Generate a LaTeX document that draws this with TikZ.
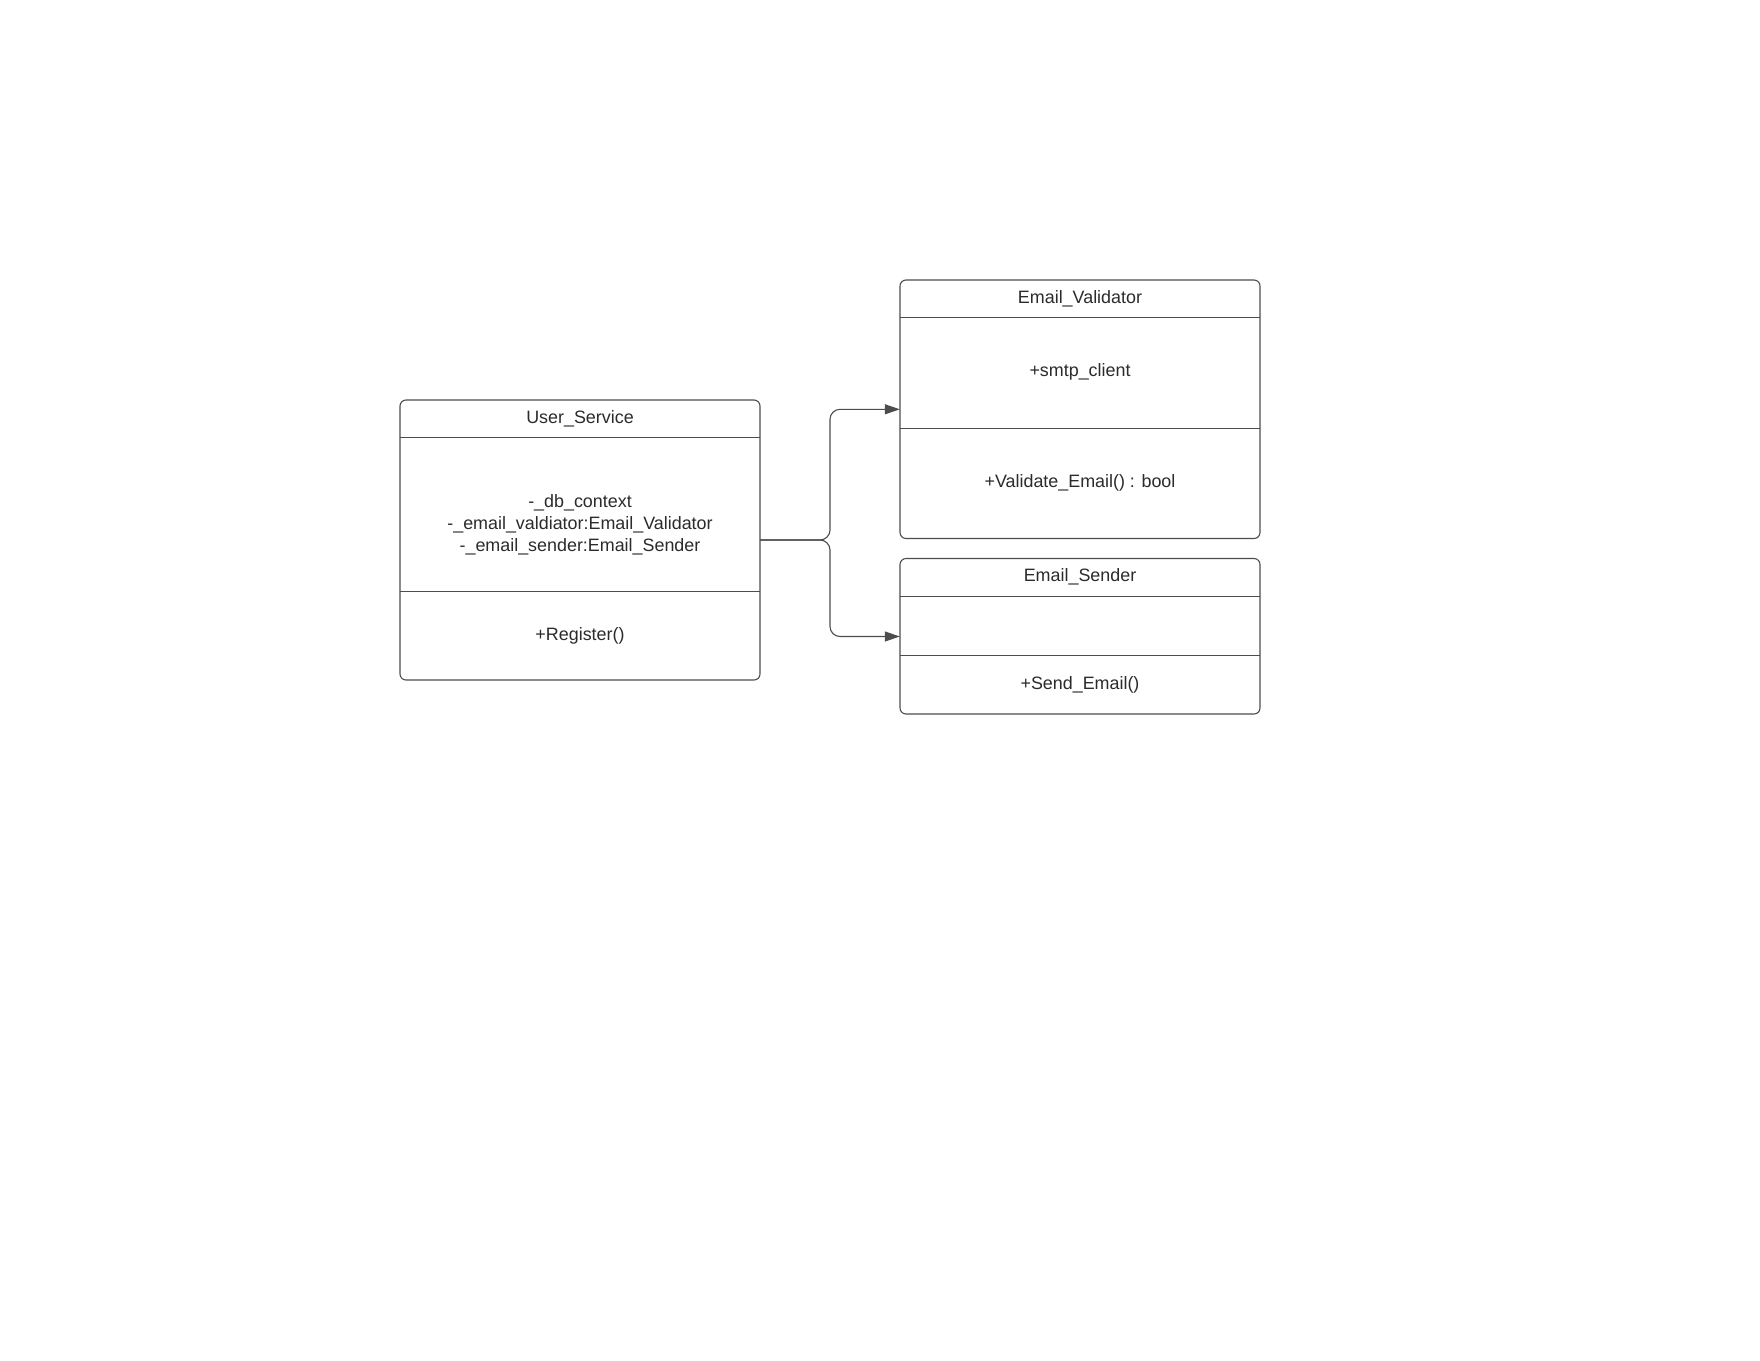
\documentclass[tikz,border=0pt]{standalone}
\usepackage{fontspec}
\setmainfont{Liberation Sans}
\usetikzlibrary{arrows.meta}
\definecolor{ink}{HTML}{2B2B2B}
\definecolor{edge}{HTML}{4D4D4D}
\begin{document}
\begin{tikzpicture}[x=1pt,y=-1pt,
  classbox/.style={draw=edge, line width=1.1pt, rounded corners=6pt, inner sep=0pt},
  sepline/.style={draw=edge, line width=1.1pt},
  txt/.style={text=ink, font=\fontsize{17.9}{22}\selectfont, align=center, inner sep=0pt},
  conn/.style={draw=edge, line width=1.1pt, rounded corners=10pt,
    -{Triangle[length=15pt,width=10pt]}}]
  \useasboundingbox[fill=white] (0,0) rectangle (1760,1360);

  % User_Service
  \path[classbox] (400,400) rectangle (760,680);
  \node[minimum width=360pt, minimum height=280pt, inner sep=0pt] (us) at (580,540) {};
  \draw[sepline] (400,437.3) -- (760,437.3);
  \draw[sepline] (400,591.3) -- (760,591.3);
  \node[txt] (usT) at (580,418.7) {User\_Service};
  \node[txt] (usA) at (580,525) {-\_db\_context\\-\_email\_valdiator:Email\_Validator\\-\_email\_sender:Email\_Sender};
  \node[txt] (usM) at (580,635.5) {+Register()};

  % Email_Validator
  \path[classbox] (900,280) rectangle (1260,538.5);
  \node[minimum width=360pt, minimum height=258.5pt, inner sep=0pt] (ev) at (1080,409.3) {};
  \draw[sepline] (900,317.3) -- (1260,317.3);
  \draw[sepline] (900,428.3) -- (1260,428.3);
  \node[txt] (evT) at (1080,298.3) {Email\_Validator};
  \node[txt] (evA) at (1080,372) {+smtp\_client};
  \node[txt] (evM) at (1080,483) {+Validate\_Email() : bool};

  % Email_Sender
  \path[classbox] (900,558.5) rectangle (1260,714);
  \node[minimum width=360pt, minimum height=155.5pt, inner sep=0pt] (es) at (1080,636.5) {};
  \draw[sepline] (900,596.7) -- (1260,596.7);
  \draw[sepline] (900,655.3) -- (1260,655.3);
  \node[txt] (esT) at (1080,577) {Email\_Sender};
  \node[txt] (esM) at (1080,684.5) {+Send\_Email()};

  % dependency connectors
  \coordinate (split) at (830,540);
  \draw[conn] (us.east) -- (split) |- (ev.west);
  \draw[conn] (us.east) -- (split) |- (es.west);
\end{tikzpicture}
\end{document}
